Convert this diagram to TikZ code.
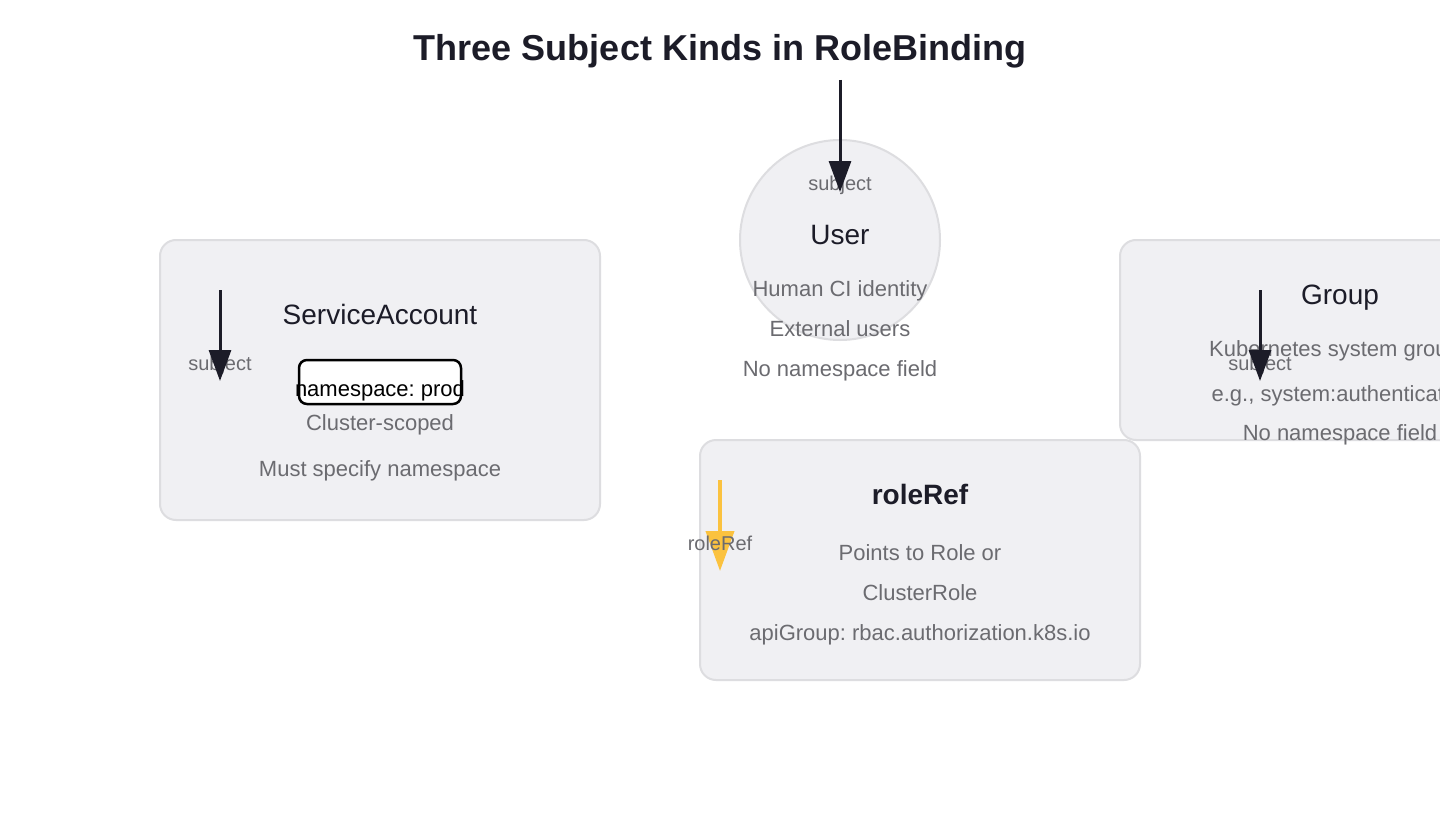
\documentclass[tikz,border=0pt]{standalone}
\usepackage{fontspec}
\setmainfont{Liberation Sans}
\usetikzlibrary{arrows.meta}
\frenchspacing
\definecolor{boxfill}{HTML}{F0F0F3}
\definecolor{boxline}{HTML}{DDDDE0}
\definecolor{titlecol}{HTML}{1C1C28}
\definecolor{graytext}{HTML}{6B6B70}
\definecolor{arrowcol}{HTML}{1C1C28}
\definecolor{refcol}{HTML}{FBC23F}
\tikzset{
  box/.style={draw=boxline, line width=2pt, fill=boxfill, rounded corners=16pt, inner sep=0pt},
  ubox/.style={draw=boxline, line width=2pt, fill=boxfill, circle, inner sep=0pt, minimum size=200pt},
  nsbox/.style={draw=black, line width=2.5pt, fill=white, rounded corners=8pt, inner sep=0pt, minimum width=162pt, minimum height=44pt},
  ttl/.style={anchor=base, inner sep=0pt, text=titlecol, font=\fontsize{28}{32}\selectfont},
  ttlb/.style={ttl, font=\fontsize{28}{32}\selectfont\bfseries},
  desc/.style={anchor=base, inner sep=0pt, text=graytext, font=\fontsize{22}{26}\selectfont},
  nstext/.style={anchor=base, inner sep=0pt, text=black, font=\fontsize{22}{26}\selectfont},
  lbl/.style={anchor=base, inner sep=0pt, text=graytext, font=\fontsize{20}{24}\selectfont},
  subjarrow/.style={draw=arrowcol, line width=3pt, -{Triangle[length=31pt,width=22pt]}},
  refarrow/.style={draw=refcol, line width=4pt, -{Triangle[length=40pt,width=28pt]}},
}
\begin{document}
\begin{tikzpicture}[x=1pt,y=-1pt]
\useasboundingbox (0,0) rectangle (1440,840);
\clip (0,0) rectangle (1440,840);
\fill[white] (0,0) rectangle (1440,840);

% title
\node[anchor=base, inner sep=0pt, text=titlecol, font=\fontsize{36}{40}\selectfont\bfseries] (title) at (720,61) {Three Subject Kinds in RoleBinding};

% boxes
\node[box, minimum width=440pt, minimum height=280pt] (sa) at (380,380) {};
\node[ubox] (user) at (840,240) {};
\node[box, minimum width=440pt, minimum height=200pt] (grp) at (1340,340) {};
\node[box, minimum width=440pt, minimum height=240pt] (ref) at (920,560) {};

% ServiceAccount
\node[ttl] (saT) at (380,324) {ServiceAccount};
\node[nsbox] (ns) at (380,382) {};
\node[nstext] (nsT) at (380,396) {namespace: prod};
\node[desc] (sa2) at (380,430) {Cluster-scoped};
\node[desc] (sa3) at (380,476) {Must specify namespace};
\node[lbl] (saL) at (220,370) {subject};
\coordinate (saA) at (220,290);
\coordinate (saB) at (220,381);
\draw[subjarrow] (saA) -- (saB);

% User
\node[ttl] (userT) at (840,244) {User};
\node[desc] (u1) at (840,296) {Human CI identity};
\node[desc] (u2) at (840,336) {External users};
\node[desc] (u3) at (840,376) {No namespace field};
\node[lbl] (uL) at (840,190) {subject};
\coordinate (uA) at (840,80);
\coordinate (uB) at (840,192);
\draw[subjarrow] (uA) -- (uB);

% Group
\node[ttl] (grpT) at (1340,304) {Group};
\node[desc] (g1) at (1340,356) {Kubernetes system groups};
\node[desc] (g2) at (1340,401) {e.g., system:authenticated};
\node[desc] (g3) at (1340,440) {No namespace field};
\node[lbl] (gL) at (1260,370) {subject};
\coordinate (gA) at (1260,290);
\coordinate (gB) at (1260,381);
\draw[subjarrow] (gA) -- (gB);

% roleRef
\node[ttlb] (refT) at (920,504) {roleRef};
\node[desc] (r1) at (920,560) {Points to Role or};
\node[desc] (r2) at (920,600) {ClusterRole};
\node[desc] (r3) at (920,640) {apiGroup: rbac.authorization.k8s.io};
\coordinate (rA) at (720,480);
\coordinate (rB) at (720,571);
\draw[refarrow] (rA) -- (rB);
\node[lbl] (rL) at (720,550) {roleRef};
\end{tikzpicture}
\end{document}
